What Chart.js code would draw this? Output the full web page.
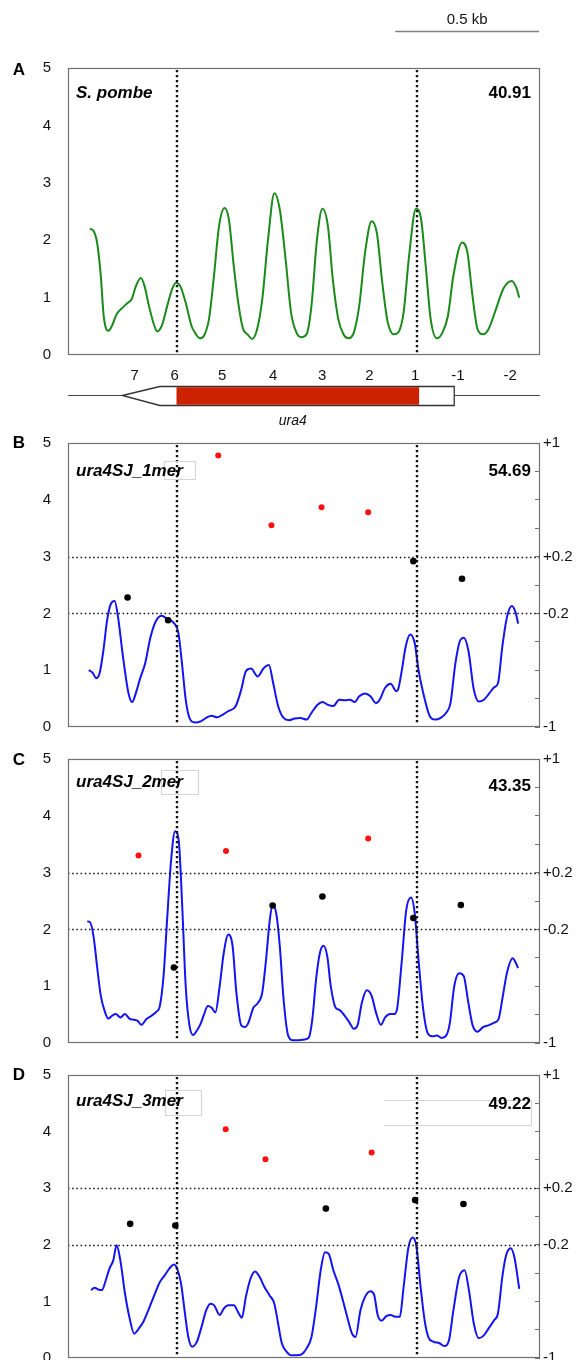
<!DOCTYPE html>
<html>
<head>
<meta charset="utf-8">
<script src="https://cdn.jsdelivr.net/npm/chart.js@4.4.1/dist/chart.umd.min.js"></script>
<style>
  html, body { margin: 0; padding: 0; background: #fff; overflow: hidden; }
  body { width: 576px; height: 1360px; position: relative; }
  canvas { position: absolute; left: 0; }
</style>
</head>
<body>
<canvas id="panelA" width="576" height="450" style="top:0px"></canvas>
<canvas id="panelB" width="576" height="320" style="top:425px"></canvas>
<canvas id="panelC" width="576" height="320" style="top:741px"></canvas>
<canvas id="panelD" width="576" height="320" style="top:1057px"></canvas>
<script>
// posicions en pb al llarg de la regio (0 - 1640 pb)
const dyadLines = [377, 1213];
const refLevels = [2, 3];
const nucPositions = [232, 371, 536, 713, 883, 1047, 1206, 1355, 1536];
const nucLabels = ['7', '6', '5', '4', '3', '2', '1', '-1', '-2'];
const rightTickValues = [1, 0.2, -0.2, -1];
const rightTickLabels = ['+1', '+0.2', '-0.2', '-1'];

// gen ura4 i barra d'escala
const geneTip = 189, geneStart = 319, orfStart = 377, orfEnd = 1220, geneEnd = 1342, geneLabelPos = 781;
const scaleBarFrom = 1137, scaleBarBp = 500;

// A - S. pombe
const aPos = [76, 89, 101, 114, 124, 140, 153, 169, 191, 208, 221, 236, 253, 266, 281, 298, 310, 326, 345, 362, 375, 390, 409, 429, 441, 458, 473, 490, 506, 525, 544, 559, 576, 593, 608, 624, 640, 657, 675, 695, 717, 736, 756, 775, 794, 811, 829, 846, 865, 884, 903, 920, 939, 957, 974, 993, 1012, 1032, 1055, 1073, 1092, 1111, 1132, 1147, 1166, 1185, 1209, 1227, 1243, 1260, 1282, 1301, 1320, 1339, 1369, 1388, 1404, 1423, 1442, 1461, 1487, 1513, 1542, 1558, 1568];
const aOcc = [2.20, 2.16, 1.96, 1.38, 0.68, 0.42, 0.51, 0.71, 0.83, 0.91, 0.97, 1.20, 1.34, 1.20, 0.86, 0.54, 0.41, 0.51, 0.86, 1.15, 1.26, 1.20, 0.91, 0.51, 0.39, 0.29, 0.34, 0.63, 1.32, 2.25, 2.56, 2.36, 1.55, 0.86, 0.46, 0.36, 0.28, 0.45, 0.97, 2.01, 2.82, 2.53, 1.67, 0.74, 0.39, 0.31, 0.36, 0.86, 2.01, 2.55, 2.25, 1.32, 0.63, 0.36, 0.29, 0.39, 0.86, 1.78, 2.33, 2.13, 1.26, 0.57, 0.36, 0.39, 0.74, 1.72, 2.55, 2.36, 1.55, 0.63, 0.29, 0.39, 0.68, 1.38, 1.96, 1.78, 1.09, 0.45, 0.36, 0.45, 0.80, 1.16, 1.29, 1.17, 1.00];

// B - ura4SJ_1mer
const bPos = [72, 85, 98, 110, 123, 136, 149, 162, 174, 191, 210, 223, 236, 251, 268, 287, 307, 326, 345, 364, 384, 396, 409, 422, 441, 461, 480, 499, 518, 538, 557, 583, 602, 618, 636, 659, 679, 698, 713, 730, 749, 769, 788, 807, 829, 846, 867, 884, 903, 922, 942, 961, 980, 996, 1012, 1032, 1051, 1070, 1083, 1102, 1121, 1141, 1147, 1160, 1173, 1189, 1205, 1218, 1237, 1256, 1275, 1295, 1314, 1329, 1346, 1363, 1375, 1391, 1410, 1427, 1445, 1465, 1481, 1494, 1509, 1525, 1542, 1555, 1564];
const bOcc = [1.00, 0.96, 0.86, 0.95, 1.35, 1.88, 2.17, 2.22, 1.93, 1.24, 0.60, 0.44, 0.60, 0.86, 1.12, 1.59, 1.88, 1.96, 1.90, 1.85, 1.64, 1.12, 0.48, 0.16, 0.08, 0.10, 0.16, 0.20, 0.17, 0.22, 0.28, 0.37, 0.66, 0.98, 1.03, 0.89, 1.03, 1.09, 0.77, 0.37, 0.16, 0.12, 0.15, 0.16, 0.13, 0.25, 0.39, 0.44, 0.39, 0.37, 0.48, 0.47, 0.48, 0.44, 0.54, 0.59, 0.54, 0.42, 0.48, 0.69, 0.76, 0.63, 0.66, 1.00, 1.41, 1.63, 1.47, 1.00, 0.54, 0.20, 0.13, 0.16, 0.25, 0.42, 1.12, 1.53, 1.57, 1.35, 0.66, 0.45, 0.48, 0.60, 0.70, 0.77, 1.41, 1.93, 2.13, 2.02, 1.82];
const bRedPos = [522, 707, 881, 1043];
const bRedVal = [4.78, 3.55, 3.87, 3.78];
const bBlackPos = [207, 348, 1200, 1369];
const bBlackVal = [2.28, 1.88, 2.92, 2.61];

// C - ura4SJ_2mer
const cPos = [67, 76, 89, 101, 114, 127, 140, 153, 166, 182, 198, 213, 230, 242, 255, 272, 290, 307, 319, 332, 345, 358, 372, 385, 396, 409, 422, 435, 448, 461, 473, 486, 499, 512, 527, 541, 557, 572, 585, 602, 615, 627, 644, 659, 675, 688, 701, 711, 724, 736, 749, 765, 781, 801, 820, 837, 849, 862, 875, 888, 901, 913, 929, 944, 961, 978, 993, 1006, 1021, 1038, 1055, 1070, 1087, 1102, 1119, 1134, 1144, 1160, 1175, 1192, 1205, 1218, 1234, 1250, 1265, 1282, 1298, 1314, 1327, 1342, 1359, 1375, 1391, 1406, 1423, 1442, 1461, 1481, 1496, 1509, 1525, 1545, 1555, 1564];
const cOcc = [2.14, 2.13, 1.87, 1.35, 0.83, 0.57, 0.43, 0.48, 0.51, 0.45, 0.51, 0.43, 0.41, 0.39, 0.32, 0.42, 0.48, 0.55, 0.65, 1.18, 2.22, 3.20, 3.73, 3.55, 2.51, 1.00, 0.31, 0.14, 0.22, 0.34, 0.51, 0.65, 0.62, 0.54, 1.00, 1.58, 1.91, 1.70, 0.89, 0.31, 0.28, 0.36, 0.62, 0.70, 0.89, 1.46, 2.16, 2.44, 2.27, 1.70, 0.77, 0.13, 0.05, 0.05, 0.06, 0.10, 0.42, 1.12, 1.58, 1.71, 1.52, 1.00, 0.63, 0.58, 0.48, 0.36, 0.25, 0.31, 0.71, 0.93, 0.83, 0.54, 0.32, 0.45, 0.51, 0.51, 0.62, 1.46, 2.33, 2.56, 2.27, 1.46, 0.60, 0.17, 0.12, 0.13, 0.09, 0.13, 0.36, 1.00, 1.23, 1.18, 0.71, 0.31, 0.20, 0.28, 0.31, 0.36, 0.42, 0.77, 1.23, 1.49, 1.42, 1.32];
const cRedPos = [245, 549, 1043];
const cRedVal = [3.30, 3.38, 3.60];
const cBlackPos = [368, 711, 884, 1200, 1365];
const cBlackVal = [1.33, 2.42, 2.58, 2.20, 2.43];

// D - ura4SJ_3mer
const dPos = [80, 92, 105, 118, 131, 144, 157, 169, 182, 198, 213, 230, 246, 262, 281, 300, 319, 336, 352, 368, 381, 393, 405, 418, 431, 448, 464, 480, 495, 508, 527, 541, 557, 576, 593, 604, 618, 634, 650, 666, 683, 700, 717, 730, 743, 760, 775, 794, 813, 829, 846, 862, 878, 893, 906, 922, 939, 955, 970, 987, 999, 1016, 1032, 1051, 1064, 1076, 1089, 1106, 1121, 1137, 1153, 1166, 1183, 1198, 1211, 1224, 1239, 1252, 1269, 1291, 1307, 1324, 1339, 1359, 1378, 1393, 1410, 1427, 1445, 1461, 1481, 1494, 1509, 1522, 1538, 1551, 1568];
const dOcc = [1.20, 1.24, 1.21, 1.20, 1.37, 1.58, 1.72, 1.99, 1.72, 1.14, 0.73, 0.43, 0.52, 0.64, 0.87, 1.11, 1.34, 1.46, 1.58, 1.65, 1.55, 1.31, 0.84, 0.37, 0.20, 0.29, 0.55, 0.84, 0.96, 0.93, 0.76, 0.87, 0.93, 0.93, 0.79, 0.71, 1.08, 1.40, 1.53, 1.43, 1.25, 1.11, 0.96, 0.61, 0.26, 0.11, 0.05, 0.05, 0.07, 0.17, 0.37, 0.90, 1.55, 1.87, 1.84, 1.55, 1.31, 1.02, 0.73, 0.43, 0.37, 0.84, 1.08, 1.18, 1.11, 0.76, 0.66, 0.74, 0.76, 0.73, 0.73, 1.25, 1.96, 2.13, 1.96, 1.31, 0.67, 0.37, 0.29, 0.26, 0.21, 0.32, 0.84, 1.43, 1.55, 1.20, 0.61, 0.35, 0.40, 0.52, 0.67, 0.79, 1.43, 1.81, 1.94, 1.78, 1.22];
const dRedPos = [548, 686, 1055];
const dRedVal = [4.04, 3.51, 3.63];
const dBlackPos = [216, 373, 896, 1206, 1374];
const dBlackVal = [2.37, 2.34, 2.64, 2.79, 2.72];

const FONT = '"Liberation Sans", Arial, sans-serif';
const pairs = (xs, ys) => xs.map((x, i) => ({ x: x, y: ys[i] }));

// Linies de referencia, requadre i textos de cada panell
const panelDecor = {
    id: 'panelDecor',
    // les linies puntejades van per sobre de la corba pero sota els punts
    afterDatasetDraw(chart, args, o) {
        if (args.index !== chart.data.datasets.length - 1) return;
        const { ctx, chartArea: a, scales } = chart;
        ctx.save();
        ctx.strokeStyle = '#111';
        if (o.refs) {
            ctx.lineWidth = 1.5;
            ctx.setLineDash([1.5, 2.7]);
            refLevels.forEach(v => {
                const y = Math.round(scales.y.getPixelForValue(v)) + 0.5;
                ctx.beginPath(); ctx.moveTo(a.left, y); ctx.lineTo(a.right, y); ctx.stroke();
            });
        }
        ctx.lineWidth = 2.4;
        ctx.setLineDash([2.2, 2.8]);
        dyadLines.forEach(v => {
            const x = Math.round(scales.x.getPixelForValue(v));
            ctx.beginPath(); ctx.moveTo(x, a.top + 2); ctx.lineTo(x, a.bottom - 2); ctx.stroke();
        });
        ctx.restore();
    },
    afterDraw(chart, args, o) {
        const { ctx, chartArea: a, scales: { x } } = chart;
        ctx.save();
        ctx.setLineDash([]);
        ctx.strokeStyle = '#707070';
        ctx.lineWidth = 1.2;
        ctx.strokeRect(a.left + 0.5, a.top + 0.5, a.right - a.left - 1, a.bottom - a.top - 1);

        // requadres grisos dels quadres de text
        ctx.strokeStyle = '#d4d4d4';
        ctx.lineWidth = 1;
        if (o.box) {
            const [x0, y0, x1, y1] = o.box;
            ctx.strokeRect(a.left + x0 + 0.5, a.top + y0 + 0.5, x1 - x0, y1 - y0);
        }
        if (o.valueBox) {
            const [x0, y0, x1, y1] = o.valueBox;
            ctx.beginPath();
            ctx.moveTo(a.left + x0, a.top + y0 + 0.5); ctx.lineTo(a.left + x1 + 0.5, a.top + y0 + 0.5);
            ctx.lineTo(a.left + x1 + 0.5, a.top + y1 + 0.5); ctx.lineTo(a.left + x0, a.top + y1 + 0.5);
            ctx.stroke();
        }

        ctx.fillStyle = '#000';
        ctx.textBaseline = 'middle';
        ctx.textAlign = 'center';
        ctx.font = 'bold 17px ' + FONT;
        ctx.fillText(o.letter, a.left - 49, a.top + o.letterDy);
        ctx.textAlign = 'left';
        ctx.font = 'italic bold 17px ' + FONT;
        ctx.fillText(o.title, a.left + 8, a.top + o.titleDy);
        ctx.textAlign = 'right';
        ctx.font = 'bold 17px ' + FONT;
        ctx.fillText(o.value, a.right - 9, a.top + o.valueDy);

        if (o.gene) {
            // barra d'escala
            const s0 = x.getPixelForValue(scaleBarFrom), s1 = x.getPixelForValue(scaleBarFrom + scaleBarBp);
            ctx.strokeStyle = '#808080';
            ctx.lineWidth = 1.3;
            ctx.beginPath(); ctx.moveTo(s0, 31.5); ctx.lineTo(s1, 31.5); ctx.stroke();
            ctx.fillStyle = '#111';
            ctx.textAlign = 'center';
            ctx.font = '15px ' + FONT;
            ctx.fillText('0.5 kb', (s0 + s1) / 2, 20);

            // gen ura4
            const yl = a.bottom + 40.5, yt = a.bottom + 31.5, yb = a.bottom + 50.5;
            ctx.strokeStyle = '#444';
            ctx.lineWidth = 1;
            ctx.beginPath(); ctx.moveTo(a.left, yl); ctx.lineTo(a.right, yl); ctx.stroke();
            ctx.beginPath();
            ctx.moveTo(x.getPixelForValue(geneTip), yl);
            ctx.lineTo(x.getPixelForValue(geneStart), yt);
            ctx.lineTo(x.getPixelForValue(geneEnd), yt);
            ctx.lineTo(x.getPixelForValue(geneEnd), yb);
            ctx.lineTo(x.getPixelForValue(geneStart), yb);
            ctx.closePath();
            ctx.fillStyle = '#fff';
            ctx.fill();
            ctx.strokeStyle = '#333';
            ctx.lineWidth = 1.3;
            ctx.stroke();
            ctx.fillStyle = '#cc2200';
            const r0 = x.getPixelForValue(orfStart), r1 = x.getPixelForValue(orfEnd);
            ctx.fillRect(r0, yt + 0.7, r1 - r0, yb - yt - 1.4);
            ctx.fillStyle = '#111';
            ctx.font = 'italic 14px ' + FONT;
            ctx.fillText('ura4', x.getPixelForValue(geneLabelPos), a.bottom + 66);
        }
        ctx.restore();
    }
};

function makePanel(id, p) {
    const datasets = [];
    if (p.red) {
        datasets.push({ data: pairs(p.red[0], p.red[1]), showLine: false, pointRadius: 3, pointBorderWidth: 0, pointBackgroundColor: '#ff1010' });
        datasets.push({ data: pairs(p.black[0], p.black[1]), showLine: false, pointRadius: 3.3, pointBorderWidth: 0, pointBackgroundColor: '#000' });
    }
    datasets.push({
        data: pairs(p.pos, p.occ), borderColor: p.color, borderWidth: 2, pointRadius: 0,
        cubicInterpolationMode: 'monotone', fill: false
    });

    const xScale = {
        type: 'linear', min: 0, max: 1640, display: !!p.gene,
        grid: { display: false }, border: { display: false }
    };
    if (p.gene) {
        Object.assign(xScale, {
            afterBuildTicks: s => { s.ticks = nucPositions.map(v => ({ value: v })); },
            afterFit: s => { s.height = 95; },
            ticks: { autoSkip: false, maxRotation: 0, padding: 4, color: '#111', font: { family: FONT, size: 15 },
                     callback: (v, i) => nucLabels[i] }
        });
    }

    const scales = {
        x: xScale,
        y: {
            min: 0, max: 5, position: 'left',
            grid: { display: false }, border: { display: false },
            afterFit: s => { s.width = 68; },
            ticks: { stepSize: 1, padding: 9, color: '#111', font: { family: FONT, size: 15 } }
        }
    };
    if (p.rightAxis) {
        scales.y2 = {
            min: -1, max: 1, position: 'right',
            grid: { drawOnChartArea: false, drawTicks: true, tickLength: -5, color: '#707070', lineWidth: 1 },
            border: { display: false },
            afterFit: s => { s.width = 36; },
            ticks: {
                stepSize: 0.2, padding: 8, color: '#111', font: { family: FONT, size: 15 },
                callback: v => {
                    const k = rightTickValues.findIndex(t => Math.abs(t - v) < 1e-6);
                    return k >= 0 ? rightTickLabels[k] : '';
                }
            }
        };
    }

    return new Chart(document.getElementById(id), {
        type: 'line',
        data: { datasets: datasets },
        options: {
            responsive: false,
            animation: false,
            events: [],
            layout: { padding: p.padding },
            scales: scales,
            plugins: {
                legend: { display: false },
                tooltip: { enabled: false },
                panelDecor: p.decor
            }
        },
        plugins: [panelDecor]
    });
}

makePanel('panelA', {
    pos: aPos, occ: aOcc, color: '#1a8a1a', gene: true, rightAxis: false,
    padding: { top: 68, right: 36, bottom: 0, left: 0 },
    decor: { letter: 'A', letterDy: 2, title: 'S. pombe', titleDy: 25, value: '40.91', valueDy: 25, refs: false, gene: true }
});
makePanel('panelB', {
    pos: bPos, occ: bOcc, color: '#1414f0', rightAxis: true,
    red: [bRedPos, bRedVal], black: [bBlackPos, bBlackVal],
    padding: { top: 16, right: 0, bottom: 17, left: 0 },
    decor: { letter: 'B', letterDy: 0, title: 'ura4SJ_1mer', titleDy: 28, value: '54.69', valueDy: 28, refs: true,
             box: [96, 18, 127, 36] }
});
makePanel('panelC', {
    pos: cPos, occ: cOcc, color: '#1414f0', rightAxis: true,
    red: [cRedPos, cRedVal], black: [cBlackPos, cBlackVal],
    padding: { top: 16, right: 0, bottom: 17, left: 0 },
    decor: { letter: 'C', letterDy: 1, title: 'ura4SJ_2mer', titleDy: 23, value: '43.35', valueDy: 27, refs: true,
             box: [93, 11, 130, 35] }
});
makePanel('panelD', {
    pos: dPos, occ: dOcc, color: '#1414f0', rightAxis: true,
    red: [dRedPos, dRedVal], black: [dBlackPos, dBlackVal],
    padding: { top: 16, right: 0, bottom: 19, left: 0 },
    decor: { letter: 'D', letterDy: 0, title: 'ura4SJ_3mer', titleDy: 26, value: '49.22', valueDy: 29, refs: true,
             box: [97, 15, 133, 40], valueBox: [316, 25, 463, 50] }
});
</script>
</body>
</html>
